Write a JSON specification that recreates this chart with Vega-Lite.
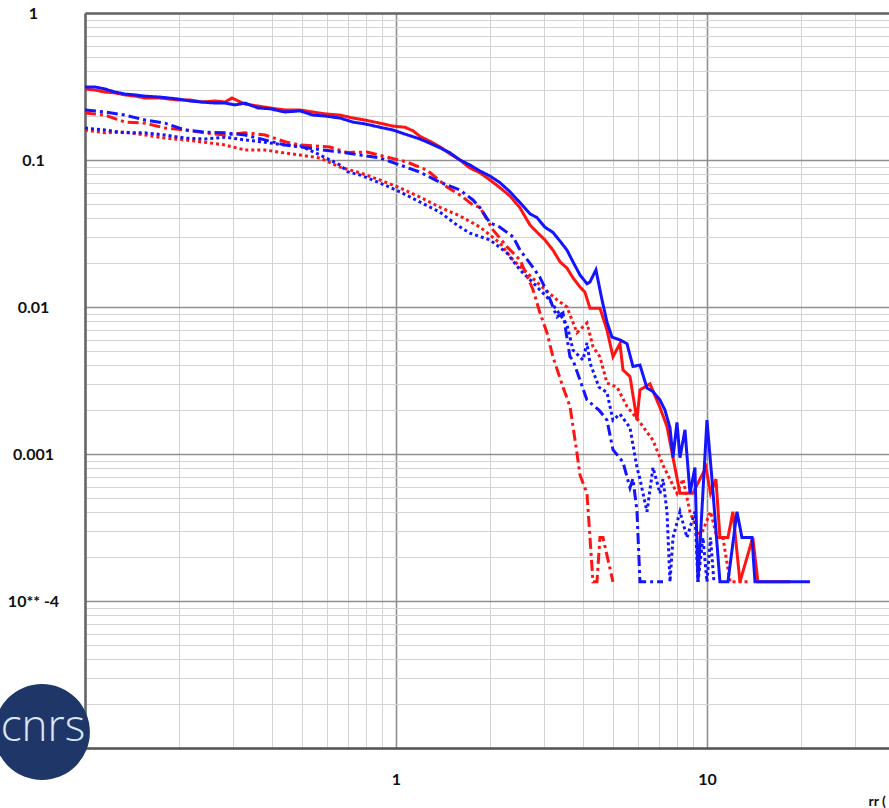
{
  "$schema": "https://vega.github.io/schema/vega-lite/v6.json",
  "width": 804,
  "height": 735,
  "autosize": {"type": "none"},
  "padding": {"left": 85, "top": 13, "right": 0, "bottom": 60},
  "background": "white",
  "config": {"view": {"stroke": null}},
  "datasets": {
    "curves": [
      {"series":"RT","colour":"red","style":"dotted","x":0.1,"y":0.160},{"series":"RT","colour":"red","style":"dotted","x":0.1159,"y":0.153},{"series":"RT","colour":"red","style":"dotted","x":0.1345,"y":0.155},{"series":"RT","colour":"red","style":"dotted","x":0.1559,"y":0.148},{"series":"RT","colour":"red","style":"dotted","x":0.1808,"y":0.141},{"series":"RT","colour":"red","style":"dotted","x":0.2097,"y":0.137},{"series":"RT","colour":"red","style":"dotted","x":0.2431,"y":0.132},{"series":"RT","colour":"red","style":"dotted","x":0.2819,"y":0.1265},{"series":"RT","colour":"red","style":"dotted","x":0.3269,"y":0.117},{"series":"RT","colour":"red","style":"dotted","x":0.3791,"y":0.117},{"series":"RT","colour":"red","style":"dotted","x":0.4395,"y":0.1116},{"series":"RT","colour":"red","style":"dotted","x":0.4913,"y":0.1081},{"series":"RT","colour":"red","style":"dotted","x":0.5697,"y":0.1032},{"series":"RT","colour":"red","style":"dotted","x":0.6606,"y":0.0894},{"series":"RT","colour":"red","style":"dotted","x":0.766,"y":0.0818},{"series":"RT","colour":"red","style":"dotted","x":0.8883,"y":0.0731},{"series":"RT","colour":"red","style":"dotted","x":1.03,"y":0.0646},{"series":"RT","colour":"red","style":"dotted","x":1.194,"y":0.056},{"series":"RT","colour":"red","style":"dotted","x":1.385,"y":0.0477},{"series":"RT","colour":"red","style":"dotted","x":1.606,"y":0.0416},{"series":"RT","colour":"red","style":"dotted","x":1.863,"y":0.035},{"series":"RT","colour":"red","style":"dotted","x":2.16,"y":0.0272},{"series":"RT","colour":"red","style":"dotted","x":2.379,"y":0.0209},{"series":"RT","colour":"red","style":"dotted","x":2.638,"y":0.0171},{"series":"RT","colour":"red","style":"dotted","x":2.904,"y":0.0141},{"series":"RT","colour":"red","style":"dotted","x":3.294,"y":0.0112},{"series":"RT","colour":"red","style":"dotted","x":3.547,"y":0.01},{"series":"RT","colour":"red","style":"dotted","x":3.82,"y":0.00669},{"series":"RT","colour":"red","style":"dotted","x":4.114,"y":0.00779},{"series":"RT","colour":"red","style":"dotted","x":4.3,"y":0.00537},{"series":"RT","colour":"red","style":"dotted","x":4.529,"y":0.00458},{"series":"RT","colour":"red","style":"dotted","x":4.77,"y":0.00304},{"series":"RT","colour":"red","style":"dotted","x":5.137,"y":0.00285},{"series":"RT","colour":"red","style":"dotted","x":5.532,"y":0.00211},{"series":"RT","colour":"red","style":"dotted","x":6.09,"y":0.00164},{"series":"RT","colour":"red","style":"dotted","x":6.706,"y":0.00124},{"series":"RT","colour":"red","style":"dotted","x":7.222,"y":0.00084},{"series":"RT","colour":"red","style":"dotted","x":8.01,"y":0.00054},{"series":"RT","colour":"red","style":"dotted","x":8.374,"y":0.000675},{"series":"RT","colour":"red","style":"dotted","x":8.82,"y":0.000405},{"series":"RT","colour":"red","style":"dotted","x":9.495,"y":0.00027},{"series":"RT","colour":"red","style":"dotted","x":10.27,"y":0.000405},{"series":"RT","colour":"red","style":"dotted","x":10.77,"y":0.00027},{"series":"RT","colour":"red","style":"dotted","x":11.26,"y":0.00027},{"series":"RT","colour":"red","style":"dotted","x":11.86,"y":0.000135},{"series":"RT","colour":"red","style":"dotted","x":13.75,"y":0.000135},

      {"series":"BT","colour":"blue","style":"dotted","x":0.1,"y":0.165},{"series":"BT","colour":"blue","style":"dotted","x":0.1159,"y":0.16},{"series":"BT","colour":"blue","style":"dotted","x":0.1345,"y":0.153},{"series":"BT","colour":"blue","style":"dotted","x":0.1559,"y":0.153},{"series":"BT","colour":"blue","style":"dotted","x":0.1808,"y":0.148},{"series":"BT","colour":"blue","style":"dotted","x":0.2097,"y":0.141},{"series":"BT","colour":"blue","style":"dotted","x":0.2431,"y":0.139},{"series":"BT","colour":"blue","style":"dotted","x":0.2819,"y":0.143},{"series":"BT","colour":"blue","style":"dotted","x":0.3269,"y":0.137},{"series":"BT","colour":"blue","style":"dotted","x":0.3791,"y":0.132},{"series":"BT","colour":"blue","style":"dotted","x":0.4395,"y":0.1265},{"series":"BT","colour":"blue","style":"dotted","x":0.4913,"y":0.125},{"series":"BT","colour":"blue","style":"dotted","x":0.5697,"y":0.1081},{"series":"BT","colour":"blue","style":"dotted","x":0.6606,"y":0.0925},{"series":"BT","colour":"blue","style":"dotted","x":0.701,"y":0.0829},{"series":"BT","colour":"blue","style":"dotted","x":0.766,"y":0.0791},{"series":"BT","colour":"blue","style":"dotted","x":0.8883,"y":0.0698},{"series":"BT","colour":"blue","style":"dotted","x":1.03,"y":0.0607},{"series":"BT","colour":"blue","style":"dotted","x":1.194,"y":0.0518},{"series":"BT","colour":"blue","style":"dotted","x":1.385,"y":0.0442},{"series":"BT","colour":"blue","style":"dotted","x":1.571,"y":0.0361},{"series":"BT","colour":"blue","style":"dotted","x":1.729,"y":0.0318},{"series":"BT","colour":"blue","style":"dotted","x":2.006,"y":0.0286},{"series":"BT","colour":"blue","style":"dotted","x":2.275,"y":0.0233},{"series":"BT","colour":"blue","style":"dotted","x":2.505,"y":0.0179},{"series":"BT","colour":"blue","style":"dotted","x":2.759,"y":0.0146},{"series":"BT","colour":"blue","style":"dotted","x":3.059,"y":0.0117},{"series":"BT","colour":"blue","style":"dotted","x":3.294,"y":0.0095},{"series":"BT","colour":"blue","style":"dotted","x":3.547,"y":0.0076},{"series":"BT","colour":"blue","style":"dotted","x":3.708,"y":0.0051},{"series":"BT","colour":"blue","style":"dotted","x":3.994,"y":0.00436},{"series":"BT","colour":"blue","style":"dotted","x":4.114,"y":0.0057},{"series":"BT","colour":"blue","style":"dotted","x":4.206,"y":0.00417},{"series":"BT","colour":"blue","style":"dotted","x":4.496,"y":0.00285},{"series":"BT","colour":"blue","style":"dotted","x":4.77,"y":0.00262},{"series":"BT","colour":"blue","style":"dotted","x":4.987,"y":0.0017},{"series":"BT","colour":"blue","style":"dotted","x":5.252,"y":0.00187},{"series":"BT","colour":"blue","style":"dotted","x":5.656,"y":0.00151},{"series":"BT","colour":"blue","style":"dotted","x":5.956,"y":0.00081},{"series":"BT","colour":"blue","style":"dotted","x":6.09,"y":0.000675},{"series":"BT","colour":"blue","style":"dotted","x":6.415,"y":0.000405},{"series":"BT","colour":"blue","style":"dotted","x":6.706,"y":0.00081},{"series":"BT","colour":"blue","style":"dotted","x":7.063,"y":0.00054},{"series":"BT","colour":"blue","style":"dotted","x":7.222,"y":0.000675},{"series":"BT","colour":"blue","style":"dotted","x":7.439,"y":0.000405},{"series":"BT","colour":"blue","style":"dotted","x":7.606,"y":0.000135},{"series":"BT","colour":"blue","style":"dotted","x":7.778,"y":0.00027},{"series":"BT","colour":"blue","style":"dotted","x":8.19,"y":0.000405},{"series":"BT","colour":"blue","style":"dotted","x":8.626,"y":0.00027},{"series":"BT","colour":"blue","style":"dotted","x":9.15,"y":0.000405},{"series":"BT","colour":"blue","style":"dotted","x":9.356,"y":0.000135},{"series":"BT","colour":"blue","style":"dotted","x":9.709,"y":0.00027},{"series":"BT","colour":"blue","style":"dotted","x":10.0,"y":0.000135},{"series":"BT","colour":"blue","style":"dotted","x":10.27,"y":0.00027},{"series":"BT","colour":"blue","style":"dotted","x":10.53,"y":0.000135},

      {"series":"RD","colour":"red","style":"dashdot","x":0.1,"y":0.209},{"series":"RD","colour":"red","style":"dashdot","x":0.1159,"y":0.202},{"series":"RD","colour":"red","style":"dashdot","x":0.1345,"y":0.181},{"series":"RD","colour":"red","style":"dashdot","x":0.1559,"y":0.178},{"series":"RD","colour":"red","style":"dashdot","x":0.1808,"y":0.165},{"series":"RD","colour":"red","style":"dashdot","x":0.2097,"y":0.16},{"series":"RD","colour":"red","style":"dashdot","x":0.2431,"y":0.153},{"series":"RD","colour":"red","style":"dashdot","x":0.2819,"y":0.148},{"series":"RD","colour":"red","style":"dashdot","x":0.3269,"y":0.153},{"series":"RD","colour":"red","style":"dashdot","x":0.3791,"y":0.148},{"series":"RD","colour":"red","style":"dashdot","x":0.4395,"y":0.133},{"series":"RD","colour":"red","style":"dashdot","x":0.4913,"y":0.1265},{"series":"RD","colour":"red","style":"dashdot","x":0.6135,"y":0.1226},{"series":"RD","colour":"red","style":"dashdot","x":0.6958,"y":0.1124},{"series":"RD","colour":"red","style":"dashdot","x":0.8068,"y":0.1132},{"series":"RD","colour":"red","style":"dashdot","x":0.9356,"y":0.1047},{"series":"RD","colour":"red","style":"dashdot","x":1.085,"y":0.0968},{"series":"RD","colour":"red","style":"dashdot","x":1.258,"y":0.0855},{"series":"RD","colour":"red","style":"dashdot","x":1.459,"y":0.0655},{"series":"RD","colour":"red","style":"dashdot","x":1.606,"y":0.0578},{"series":"RD","colour":"red","style":"dashdot","x":1.769,"y":0.0494},{"series":"RD","colour":"red","style":"dashdot","x":1.863,"y":0.0475},{"series":"RD","colour":"red","style":"dashdot","x":2.052,"y":0.0334},{"series":"RD","colour":"red","style":"dashdot","x":2.275,"y":0.0257},{"series":"RD","colour":"red","style":"dashdot","x":2.505,"y":0.0209},{"series":"RD","colour":"red","style":"dashdot","x":2.759,"y":0.0131},{"series":"RD","colour":"red","style":"dashdot","x":2.904,"y":0.00913},{"series":"RD","colour":"red","style":"dashdot","x":3.059,"y":0.00669},{"series":"RD","colour":"red","style":"dashdot","x":3.197,"y":0.00458},{"series":"RD","colour":"red","style":"dashdot","x":3.444,"y":0.00285},{"series":"RD","colour":"red","style":"dashdot","x":3.627,"y":0.00211},{"series":"RD","colour":"red","style":"dashdot","x":3.708,"y":0.00155},{"series":"RD","colour":"red","style":"dashdot","x":3.82,"y":0.00101},{"series":"RD","colour":"red","style":"dashdot","x":3.906,"y":0.00072},{"series":"RD","colour":"red","style":"dashdot","x":4.114,"y":0.00054},{"series":"RD","colour":"red","style":"dashdot","x":4.206,"y":0.00027},{"series":"RD","colour":"red","style":"dashdot","x":4.3,"y":0.000135},{"series":"RD","colour":"red","style":"dashdot","x":4.429,"y":0.000135},{"series":"RD","colour":"red","style":"dashdot","x":4.529,"y":0.00027},{"series":"RD","colour":"red","style":"dashdot","x":4.631,"y":0.00027},{"series":"RD","colour":"red","style":"dashdot","x":4.987,"y":0.000135},

      {"series":"BD","colour":"blue","style":"dashdot","x":0.1,"y":0.219},{"series":"BD","colour":"blue","style":"dashdot","x":0.1159,"y":0.212},{"series":"BD","colour":"blue","style":"dashdot","x":0.1345,"y":0.202},{"series":"BD","colour":"blue","style":"dashdot","x":0.1559,"y":0.187},{"series":"BD","colour":"blue","style":"dashdot","x":0.1808,"y":0.178},{"series":"BD","colour":"blue","style":"dashdot","x":0.2097,"y":0.16},{"series":"BD","colour":"blue","style":"dashdot","x":0.2431,"y":0.155},{"series":"BD","colour":"blue","style":"dashdot","x":0.2819,"y":0.153},{"series":"BD","colour":"blue","style":"dashdot","x":0.3269,"y":0.148},{"series":"BD","colour":"blue","style":"dashdot","x":0.3791,"y":0.137},{"series":"BD","colour":"blue","style":"dashdot","x":0.4395,"y":0.1265},{"series":"BD","colour":"blue","style":"dashdot","x":0.4913,"y":0.1226},{"series":"BD","colour":"blue","style":"dashdot","x":0.6606,"y":0.1132},{"series":"BD","colour":"blue","style":"dashdot","x":0.766,"y":0.1081},{"series":"BD","colour":"blue","style":"dashdot","x":0.8883,"y":0.1032},{"series":"BD","colour":"blue","style":"dashdot","x":1.03,"y":0.0925},{"series":"BD","colour":"blue","style":"dashdot","x":1.194,"y":0.0827},{"series":"BD","colour":"blue","style":"dashdot","x":1.385,"y":0.0706},{"series":"BD","colour":"blue","style":"dashdot","x":1.606,"y":0.0625},{"series":"BD","colour":"blue","style":"dashdot","x":1.769,"y":0.0535},{"series":"BD","colour":"blue","style":"dashdot","x":1.863,"y":0.0474},{"series":"BD","colour":"blue","style":"dashdot","x":2.006,"y":0.0373},{"series":"BD","colour":"blue","style":"dashdot","x":2.16,"y":0.0349},{"series":"BD","colour":"blue","style":"dashdot","x":2.379,"y":0.03},{"series":"BD","colour":"blue","style":"dashdot","x":2.505,"y":0.0244},{"series":"BD","colour":"blue","style":"dashdot","x":2.698,"y":0.0198},{"series":"BD","colour":"blue","style":"dashdot","x":2.904,"y":0.0159},{"series":"BD","colour":"blue","style":"dashdot","x":3.059,"y":0.0127},{"series":"BD","colour":"blue","style":"dashdot","x":3.294,"y":0.00855},{"series":"BD","colour":"blue","style":"dashdot","x":3.444,"y":0.00913},{"series":"BD","colour":"blue","style":"dashdot","x":3.627,"y":0.00458},{"series":"BD","colour":"blue","style":"dashdot","x":3.708,"y":0.00436},{"series":"BD","colour":"blue","style":"dashdot","x":4.114,"y":0.00233},{"series":"BD","colour":"blue","style":"dashdot","x":4.496,"y":0.00199},{"series":"BD","colour":"blue","style":"dashdot","x":4.77,"y":0.0017},{"series":"BD","colour":"blue","style":"dashdot","x":4.987,"y":0.00107},{"series":"BD","colour":"blue","style":"dashdot","x":5.37,"y":0.00088},{"series":"BD","colour":"blue","style":"dashdot","x":5.656,"y":0.00059},{"series":"BD","colour":"blue","style":"dashdot","x":5.782,"y":0.00068},{"series":"BD","colour":"blue","style":"dashdot","x":5.956,"y":0.00041},{"series":"BD","colour":"blue","style":"dashdot","x":6.09,"y":0.000135},{"series":"BD","colour":"blue","style":"dashdot","x":7.222,"y":0.000135},

      {"series":"RS","colour":"red","style":"solid","x":0.1,"y":0.304},{"series":"RS","colour":"red","style":"solid","x":0.1077,"y":0.299},{"series":"RS","colour":"red","style":"solid","x":0.1159,"y":0.29},{"series":"RS","colour":"red","style":"solid","x":0.1248,"y":0.286},{"series":"RS","colour":"red","style":"solid","x":0.1345,"y":0.277},{"series":"RS","colour":"red","style":"solid","x":0.1449,"y":0.272},{"series":"RS","colour":"red","style":"solid","x":0.1559,"y":0.264},{"series":"RS","colour":"red","style":"solid","x":0.1743,"y":0.264},{"series":"RS","colour":"red","style":"solid","x":0.1991,"y":0.256},{"series":"RS","colour":"red","style":"solid","x":0.2176,"y":0.256},{"series":"RS","colour":"red","style":"solid","x":0.2378,"y":0.248},{"series":"RS","colour":"red","style":"solid","x":0.2618,"y":0.252},{"series":"RS","colour":"red","style":"solid","x":0.2819,"y":0.248},{"series":"RS","colour":"red","style":"solid","x":0.2969,"y":0.264},{"series":"RS","colour":"red","style":"solid","x":0.3269,"y":0.24},{"series":"RS","colour":"red","style":"solid","x":0.3599,"y":0.233},{"series":"RS","colour":"red","style":"solid","x":0.3934,"y":0.226},{"series":"RS","colour":"red","style":"solid","x":0.4395,"y":0.219},{"series":"RS","colour":"red","style":"solid","x":0.4913,"y":0.219},{"series":"RS","colour":"red","style":"solid","x":0.541,"y":0.212},{"series":"RS","colour":"red","style":"solid","x":0.5912,"y":0.206},{"series":"RS","colour":"red","style":"solid","x":0.6606,"y":0.202},{"series":"RS","colour":"red","style":"solid","x":0.7275,"y":0.193},{"series":"RS","colour":"red","style":"solid","x":0.795,"y":0.187},{"series":"RS","colour":"red","style":"solid","x":0.8883,"y":0.178},{"series":"RS","colour":"red","style":"solid","x":0.978,"y":0.17},{"series":"RS","colour":"red","style":"solid","x":1.069,"y":0.167},{"series":"RS","colour":"red","style":"solid","x":1.134,"y":0.158},{"series":"RS","colour":"red","style":"solid","x":1.194,"y":0.145},{"series":"RS","colour":"red","style":"solid","x":1.286,"y":0.134},{"series":"RS","colour":"red","style":"solid","x":1.385,"y":0.123},{"series":"RS","colour":"red","style":"solid","x":1.491,"y":0.11},{"series":"RS","colour":"red","style":"solid","x":1.606,"y":0.1},{"series":"RS","colour":"red","style":"solid","x":1.729,"y":0.0882},{"series":"RS","colour":"red","style":"solid","x":1.863,"y":0.0818},{"series":"RS","colour":"red","style":"solid","x":2.006,"y":0.0731},{"series":"RS","colour":"red","style":"solid","x":2.16,"y":0.0648},{"series":"RS","colour":"red","style":"solid","x":2.326,"y":0.0569},{"series":"RS","colour":"red","style":"solid","x":2.505,"y":0.0473},{"series":"RS","colour":"red","style":"solid","x":2.698,"y":0.0361},{"series":"RS","colour":"red","style":"solid","x":2.84,"y":0.0323},{"series":"RS","colour":"red","style":"solid","x":3.013,"y":0.0286},{"series":"RS","colour":"red","style":"solid","x":3.197,"y":0.0244},{"series":"RS","colour":"red","style":"solid","x":3.368,"y":0.0203},{"series":"RS","colour":"red","style":"solid","x":3.547,"y":0.0184},{"series":"RS","colour":"red","style":"solid","x":3.708,"y":0.0158},{"series":"RS","colour":"red","style":"solid","x":3.906,"y":0.0137},{"series":"RS","colour":"red","style":"solid","x":4.053,"y":0.0126},{"series":"RS","colour":"red","style":"solid","x":4.206,"y":0.00981},{"series":"RS","colour":"red","style":"solid","x":4.529,"y":0.00981},{"series":"RS","colour":"red","style":"solid","x":4.77,"y":0.00698},{"series":"RS","colour":"red","style":"solid","x":4.987,"y":0.00459},{"series":"RS","colour":"red","style":"solid","x":5.252,"y":0.00564},{"series":"RS","colour":"red","style":"solid","x":5.37,"y":0.00373},{"series":"RS","colour":"red","style":"solid","x":5.656,"y":0.00337},{"series":"RS","colour":"red","style":"solid","x":5.956,"y":0.0017},{"series":"RS","colour":"red","style":"solid","x":6.09,"y":0.00273},{"series":"RS","colour":"red","style":"solid","x":6.558,"y":0.003},{"series":"RS","colour":"red","style":"solid","x":7.063,"y":0.00207},{"series":"RS","colour":"red","style":"solid","x":7.439,"y":0.00154},{"series":"RS","colour":"red","style":"solid","x":7.778,"y":0.000945},{"series":"RS","colour":"red","style":"solid","x":8.19,"y":0.00054},{"series":"RS","colour":"red","style":"solid","x":9.015,"y":0.00054},{"series":"RS","colour":"red","style":"solid","x":9.495,"y":0.000675},{"series":"RS","colour":"red","style":"solid","x":9.927,"y":0.00081},{"series":"RS","colour":"red","style":"solid","x":10.27,"y":0.00054},{"series":"RS","colour":"red","style":"solid","x":10.69,"y":0.000675},{"series":"RS","colour":"red","style":"solid","x":11.01,"y":0.00027},{"series":"RS","colour":"red","style":"solid","x":11.68,"y":0.00027},{"series":"RS","colour":"red","style":"solid","x":12.12,"y":0.000405},{"series":"RS","colour":"red","style":"solid","x":12.77,"y":0.000135},{"series":"RS","colour":"red","style":"solid","x":14.04,"y":0.00027},{"series":"RS","colour":"red","style":"solid","x":14.59,"y":0.000135},{"series":"RS","colour":"red","style":"solid","x":18.49,"y":0.000135},

      {"series":"BS","colour":"blue","style":"solid","x":0.1,"y":0.314},{"series":"BS","colour":"blue","style":"solid","x":0.1077,"y":0.314},{"series":"BS","colour":"blue","style":"solid","x":0.1159,"y":0.304},{"series":"BS","colour":"blue","style":"solid","x":0.1248,"y":0.29},{"series":"BS","colour":"blue","style":"solid","x":0.1345,"y":0.281},{"series":"BS","colour":"blue","style":"solid","x":0.1449,"y":0.277},{"series":"BS","colour":"blue","style":"solid","x":0.1559,"y":0.272},{"series":"BS","colour":"blue","style":"solid","x":0.1743,"y":0.268},{"series":"BS","colour":"blue","style":"solid","x":0.1991,"y":0.26},{"series":"BS","colour":"blue","style":"solid","x":0.2176,"y":0.252},{"series":"BS","colour":"blue","style":"solid","x":0.2378,"y":0.248},{"series":"BS","colour":"blue","style":"solid","x":0.2618,"y":0.244},{"series":"BS","colour":"blue","style":"solid","x":0.2819,"y":0.244},{"series":"BS","colour":"blue","style":"solid","x":0.3036,"y":0.237},{"series":"BS","colour":"blue","style":"solid","x":0.3269,"y":0.244},{"series":"BS","colour":"blue","style":"solid","x":0.3599,"y":0.226},{"series":"BS","colour":"blue","style":"solid","x":0.3934,"y":0.223},{"series":"BS","colour":"blue","style":"solid","x":0.4395,"y":0.212},{"series":"BS","colour":"blue","style":"solid","x":0.4913,"y":0.216},{"series":"BS","colour":"blue","style":"solid","x":0.541,"y":0.202},{"series":"BS","colour":"blue","style":"solid","x":0.5912,"y":0.199},{"series":"BS","colour":"blue","style":"solid","x":0.6606,"y":0.193},{"series":"BS","colour":"blue","style":"solid","x":0.7275,"y":0.181},{"series":"BS","colour":"blue","style":"solid","x":0.795,"y":0.176},{"series":"BS","colour":"blue","style":"solid","x":0.8883,"y":0.167},{"series":"BS","colour":"blue","style":"solid","x":0.978,"y":0.16},{"series":"BS","colour":"blue","style":"solid","x":1.069,"y":0.15},{"series":"BS","colour":"blue","style":"solid","x":1.194,"y":0.139},{"series":"BS","colour":"blue","style":"solid","x":1.286,"y":0.13},{"series":"BS","colour":"blue","style":"solid","x":1.385,"y":0.121},{"series":"BS","colour":"blue","style":"solid","x":1.491,"y":0.112},{"series":"BS","colour":"blue","style":"solid","x":1.606,"y":0.1},{"series":"BS","colour":"blue","style":"solid","x":1.729,"y":0.0925},{"series":"BS","colour":"blue","style":"solid","x":1.863,"y":0.0842},{"series":"BS","colour":"blue","style":"solid","x":2.006,"y":0.0778},{"series":"BS","colour":"blue","style":"solid","x":2.16,"y":0.0701},{"series":"BS","colour":"blue","style":"solid","x":2.326,"y":0.0608},{"series":"BS","colour":"blue","style":"solid","x":2.505,"y":0.0513},{"series":"BS","colour":"blue","style":"solid","x":2.698,"y":0.043},{"series":"BS","colour":"blue","style":"solid","x":2.84,"y":0.0406},{"series":"BS","colour":"blue","style":"solid","x":3.013,"y":0.0349},{"series":"BS","colour":"blue","style":"solid","x":3.197,"y":0.0322},{"series":"BS","colour":"blue","style":"solid","x":3.368,"y":0.0281},{"series":"BS","colour":"blue","style":"solid","x":3.547,"y":0.0244},{"series":"BS","colour":"blue","style":"solid","x":3.708,"y":0.0203},{"series":"BS","colour":"blue","style":"solid","x":3.906,"y":0.0165},{"series":"BS","colour":"blue","style":"solid","x":4.114,"y":0.0144},{"series":"BS","colour":"blue","style":"solid","x":4.206,"y":0.0148},{"series":"BS","colour":"blue","style":"solid","x":4.396,"y":0.0179},{"series":"BS","colour":"blue","style":"solid","x":4.597,"y":0.0112},{"series":"BS","colour":"blue","style":"solid","x":4.77,"y":0.0079},{"series":"BS","colour":"blue","style":"solid","x":4.95,"y":0.00624},{"series":"BS","colour":"blue","style":"solid","x":5.252,"y":0.00597},{"series":"BS","colour":"blue","style":"solid","x":5.532,"y":0.00563},{"series":"BS","colour":"blue","style":"solid","x":5.782,"y":0.00394},{"series":"BS","colour":"blue","style":"solid","x":6.09,"y":0.00403},{"series":"BS","colour":"blue","style":"solid","x":6.415,"y":0.00281},{"series":"BS","colour":"blue","style":"solid","x":6.706,"y":0.00266},{"series":"BS","colour":"blue","style":"solid","x":7.063,"y":0.00233},{"series":"BS","colour":"blue","style":"solid","x":7.329,"y":0.00199},{"series":"BS","colour":"blue","style":"solid","x":7.606,"y":0.00151},{"series":"BS","colour":"blue","style":"solid","x":7.778,"y":0.000945},{"series":"BS","colour":"blue","style":"solid","x":8.01,"y":0.00164},{"series":"BS","colour":"blue","style":"solid","x":8.19,"y":0.000945},{"series":"BS","colour":"blue","style":"solid","x":8.499,"y":0.00146},{"series":"BS","colour":"blue","style":"solid","x":8.82,"y":0.00054},{"series":"BS","colour":"blue","style":"solid","x":9.15,"y":0.00081},{"series":"BS","colour":"blue","style":"solid","x":9.356,"y":0.000135},{"series":"BS","colour":"blue","style":"solid","x":10.0,"y":0.0017},{"series":"BS","colour":"blue","style":"solid","x":10.38,"y":0.000675},{"series":"BS","colour":"blue","style":"solid","x":11.01,"y":0.000135},{"series":"BS","colour":"blue","style":"solid","x":11.68,"y":0.000135},{"series":"BS","colour":"blue","style":"solid","x":12.49,"y":0.000405},{"series":"BS","colour":"blue","style":"solid","x":12.96,"y":0.00027},{"series":"BS","colour":"blue","style":"solid","x":13.96,"y":0.00027},{"series":"BS","colour":"blue","style":"solid","x":14.27,"y":0.000135},{"series":"BS","colour":"blue","style":"solid","x":21.44,"y":0.000135}
    ],
    "logo": [{"x": 0.0727, "y": 0.00001285, "label": "cnrs"}]
  },
  "layer": [
    {
      "data": {"name": "curves"},
      "mark": {"type": "line", "strokeWidth": 3},
      "encoding": {
        "x": {
          "field": "x", "type": "quantitative",
          "scale": {"type": "log", "domain": [0.1, 38.5], "nice": false},
          "axis": {
            "values": [0.1,0.2,0.3,0.4,0.5,0.6,0.7,0.8,0.9,1,2,3,4,5,6,7,8,9,10,20,30],
            "grid": true,
            "gridColor": {"condition": {"test": "datum.value==1||datum.value==10||datum.value==0.1", "value": "#8f8f8f"}, "value": "#d3d3d3"},
            "gridWidth": {"condition": {"test": "datum.value==1||datum.value==10||datum.value==0.1", "value": 1.6}, "value": 1},
            "ticks": false,
            "domain": true, "domainColor": "#555555", "domainWidth": 2.5,
            "labelExpr": "datum.value==1?'1':datum.value==10?'10':''",
            "labelFont": "Lato", "labelFontWeight": "bold", "labelFontSize": 16, "labelColor": "#111111",
            "labelPadding": 23, "labelOverlap": false, "labelFlush": false, "labelBound": false,
            "title": "rr (", "titleX": 783, "titleY": 57, "titleAlign": "left", "titleBaseline": "alphabetic",
            "titleFont": "Lato", "titleFontSize": 14, "titleFontWeight": "bold", "titleColor": "#111111"
          }
        },
        "y": {
          "field": "y", "type": "quantitative",
          "scale": {"type": "log", "domain": [0.00001, 1], "nice": false},
          "axis": {
            "values": [1,0.9,0.8,0.7,0.6,0.5,0.4,0.3,0.2,0.1,0.09,0.08,0.07,0.06,0.05,0.04,0.03,0.02,0.01,0.009,0.008,0.007,0.006,0.005,0.004,0.003,0.002,0.001,0.0009,0.0008,0.0007,0.0006,0.0005,0.0004,0.0003,0.0002,0.0001,0.00009,0.00008,0.00007,0.00006,0.00005,0.00004,0.00003,0.00002,0.00001],
            "grid": true,
            "gridColor": {"condition": {"test": "datum.value==1||datum.value==0.1||datum.value==0.01||datum.value==0.001||datum.value==0.0001||datum.value==0.00001", "value": "#8f8f8f"}, "value": "#d3d3d3"},
            "gridWidth": {"condition": {"test": "datum.value==1||datum.value==0.1||datum.value==0.01||datum.value==0.001||datum.value==0.0001||datum.value==0.00001", "value": 1.6}, "value": 1},
            "ticks": false,
            "domain": true, "domainColor": "#666666", "domainWidth": 2.5,
            "labelExpr": "datum.value==1?'1':datum.value==0.1?'0.1':datum.value==0.01?'0.01':datum.value==0.001?'0.001':datum.value==0.0001?'10** -4':''",
            "labelFont": "Lato", "labelFontWeight": "bold", "labelFontSize": 16, "labelColor": "#111111",
            "labelAlign": "center", "labelBaseline": "middle", "labelPadding": 52,
            "labelOverlap": false, "labelFlush": false, "labelBound": false,
            "title": null
          }
        },
        "color": {"field": "colour", "type": "nominal", "scale": {"domain": ["red", "blue"], "range": ["#ff1414", "#1414ff"]}, "legend": null},
        "strokeDash": {"field": "style", "type": "nominal", "scale": {"domain": ["solid", "dashdot", "dotted"], "range": [[1, 0], [11, 4, 3, 4], [3, 3]]}, "legend": null},
        "detail": {"field": "series", "type": "nominal"}
      }
    },
    {
      "data": {"name": "logo"},
      "mark": {"type": "point", "shape": "circle", "filled": true, "size": 9200, "color": "#1f3768", "opacity": 1},
      "encoding": {
        "x": {"field": "x", "type": "quantitative", "scale": {"type": "log", "domain": [0.1, 38.5], "nice": false},
              "axis": {"orient": "top", "labels": false, "ticks": false, "grid": false, "domain": true, "domainColor": "#666666", "domainWidth": 2.5, "title": null}},
        "y": {"field": "y", "type": "quantitative", "scale": {"type": "log", "domain": [0.00001, 1], "nice": false}, "axis": null}
      }
    },
    {
      "data": {"name": "logo"},
      "mark": {"type": "text", "font": "Open Sans", "fontSize": 44, "fontWeight": 300, "color": "#dbe7f7", "baseline": "middle", "align": "center", "dx": 1, "dy": -4},
      "encoding": {
        "x": {"field": "x", "type": "quantitative", "scale": {"type": "log", "domain": [0.1, 38.5], "nice": false}, "axis": null},
        "y": {"field": "y", "type": "quantitative", "scale": {"type": "log", "domain": [0.00001, 1], "nice": false}, "axis": null},
        "text": {"field": "label"}
      }
    }
  ],
  "resolve": {"axis": {"x": "independent", "y": "independent"}}
}
